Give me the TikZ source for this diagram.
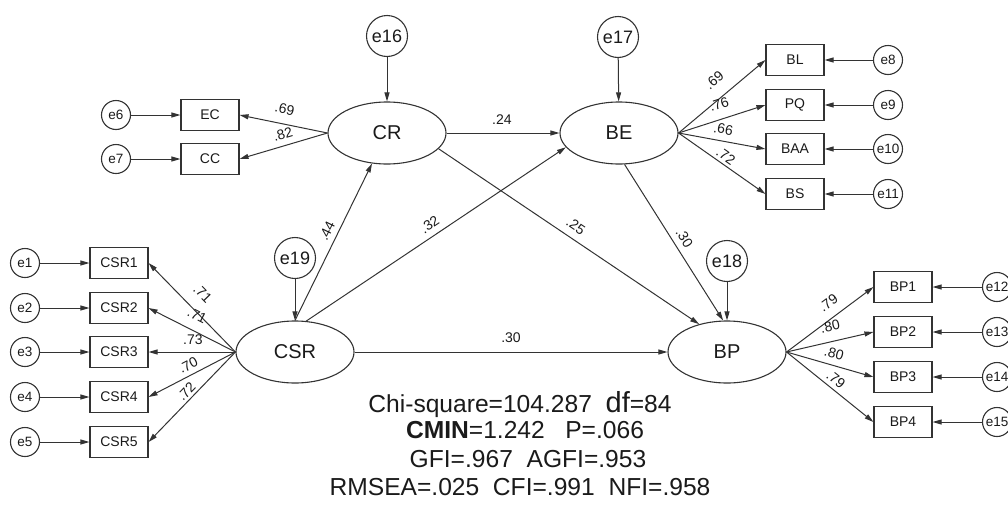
\documentclass[tikz,border=0pt]{standalone}
\usepackage{fontspec}
\setmainfont{Liberation Sans}
\usetikzlibrary{shapes.geometric,arrows.meta}
\definecolor{linec}{HTML}{333333}
\definecolor{textc}{HTML}{1A1A1A}

\begin{document}
\begin{tikzpicture}[x=1pt,y=-1pt,
  line/.style={draw=linec, line width=1pt},
  arr/.style={line, -{Triangle[length=9pt,width=5pt]}},
  latent/.style={ellipse, draw=linec, line width=1.1pt, minimum width=118pt, minimum height=62pt,
    inner sep=0pt, text=textc, font=\fontsize{20}{22}\selectfont},
  obs/.style={rectangle, draw=linec, line width=1.1pt, minimum width=58pt, minimum height=31pt,
    inner sep=0pt, text=textc, font=\fontsize{14}{16}\selectfont},
  err/.style={circle, draw=linec, line width=1.1pt, minimum size=29pt, inner sep=0pt,
    text=textc, font=\fontsize{13.5}{15}\selectfont},
  bigerr/.style={circle, draw=linec, line width=1.1pt, minimum size=41pt, inner sep=0pt,
    text=textc, font=\fontsize{18}{20}\selectfont},
  coef/.style={font=\fontsize{14}{15}\selectfont, text=textc, sloped, inner sep=0pt},
  stat/.style={font=\fontsize{24.6}{28}\selectfont, text=textc, inner sep=0pt, anchor=base}
]
\useasboundingbox (0,0) rectangle (1008,509);

% latent variables
\node[latent] (CR)  at (387,133) {CR};
\node[latent] (BE)  at (619,133) {BE};
\node[latent] (CSR) at (295,352) {CSR};
\node[latent] (BP)  at (727,352) {BP};

% disturbances
\node[bigerr] (e16) at (387,36)  {e16};
\node[bigerr] (e17) at (618,37)  {e17};
\node[bigerr] (e19) at (295,258) {e19};
\node[bigerr] (e18) at (727,261) {e18};

% indicators of CR
\node[obs] (EC) at (210,115) {EC};
\node[obs] (CC) at (210,159) {CC};
\node[err] (e6) at (116,115) {e6};
\node[err] (e7) at (116,159) {e7};

% indicators of BE
\node[obs] (BL)  at (795,60)  {BL};
\node[obs] (PQ)  at (795,105) {PQ};
\node[obs] (BAA) at (795,149) {BAA};
\node[obs] (BS)  at (795,194) {BS};
\node[err] (e8)  at (888,60)  {e8};
\node[err] (e9)  at (888,105) {e9};
\node[err] (e10) at (888,149) {e10};
\node[err] (e11) at (888,194) {e11};

% indicators of CSR
\node[obs] (CSR1) at (119,263) {CSR1};
\node[obs] (CSR2) at (119,308) {CSR2};
\node[obs] (CSR3) at (119,352) {CSR3};
\node[obs] (CSR4) at (119,397) {CSR4};
\node[obs] (CSR5) at (119,442) {CSR5};
\node[err] (e1) at (25,263) {e1};
\node[err] (e2) at (25,308) {e2};
\node[err] (e3) at (25,352) {e3};
\node[err] (e4) at (25,397) {e4};
\node[err] (e5) at (25,442) {e5};

% indicators of BP
\node[obs] (BP1) at (903,287) {BP1};
\node[obs] (BP2) at (903,332) {BP2};
\node[obs] (BP3) at (903,377) {BP3};
\node[obs] (BP4) at (903,422) {BP4};
\node[err] (e12) at (997,287) {e12};
\node[err] (e13) at (997,332) {e13};
\node[err] (e14) at (997,377) {e14};
\node[err] (e15) at (997,422) {e15};

% disturbance arrows
\draw[arr] (e16) -- (CR);
\draw[arr] (e17) -- (BE);
\draw[arr] (e19) -- (CSR);
\draw[arr] (e18) -- (BP.north);

% error arrows
\foreach \e/\o in {e6/EC,e7/CC,e1/CSR1,e2/CSR2,e3/CSR3,e4/CSR4,e5/CSR5}
  \draw[arr] (\e.east) -- (\o.west);
\foreach \e/\o in {e8/BL,e9/PQ,e10/BAA,e11/BS,e12/BP1,e13/BP2,e14/BP3,e15/BP4}
  \draw[arr] (\e.west) -- (\o.east);

% loadings
\draw[arr] (CR.west) -- node[coef,pos=.52,above=9.5pt]{.69} (EC.east);
\draw[arr] (CR.west) -- node[coef,pos=.47,above=6pt]{.82} (CC.east);

\draw[arr] (BE.east) -- node[coef,pos=.54,above=12pt]{.69} (BL.west);
\draw[arr] (BE.east) -- node[coef,pos=.52,above=9.5pt]{.76} (PQ.west);
\draw[arr] (BE.east) -- node[coef,pos=.49,above=6.5pt]{.66} (BAA.west);
\draw[arr] (BE.east) -- node[coef,pos=.49,above=3pt]{.72} (BS.west);

\draw[arr] (CSR.west) -- node[coef,pos=.52,above=12pt]{.71} (CSR1.east);
\draw[arr] (CSR.west) -- node[coef,pos=.52,above=10pt]{.71} (CSR2.east);
\draw[arr] (CSR.west) -- node[coef,pos=.49,above=7pt]{.73} (CSR3.east);
\draw[arr] (CSR.west) -- node[coef,pos=.49,above=4.5pt]{.70} (CSR4.east);
\draw[arr] (CSR.west) -- node[coef,pos=.5,above=2.5pt]{.72} (CSR5.east);

\draw[arr] (BP.east) -- node[coef,pos=.58,above=9pt]{.79} (BP1.west);
\draw[arr] (BP.east) -- node[coef,pos=.54,above=9.5pt]{.80} (BP2.west);
\draw[arr] (BP.east) -- node[coef,pos=.51,above=6pt]{.80} (BP3.west);
\draw[arr] (BP.east) -- node[coef,pos=.5,above=4pt]{.79} (BP4.west);

% structural paths
\draw[arr] (CR.east) -- node[coef,pos=.49,above=8pt]{.24} (BE.west);
\draw[arr] (CSR.north) -- node[coef,pos=.54,above=5.5pt]{.44} (CR);
\draw[arr] (CSR.70) -- node[coef,pos=.5,above=6pt]{.32} (BE.195);
\draw[arr] (CR.-17) -- node[coef,pos=.5,above=7pt]{.25} (BP.135);
\draw[arr] (BE.-80) -- node[coef,pos=.51,above=6pt]{.30} (BP.97);
\draw[arr] (CSR.east) -- node[coef,pos=.5,above=8.5pt]{.30} (BP.west);

% fit statistics
\node[stat] (fit1) at (520,412) {Chi-square=104.287\ \ {\fontsize{29}{30}\selectfont df}=84};
\node[stat] (fit2) at (525,438) {\textbf{CMIN}=1.242\ \ \ P=.066};
\node[stat] (fit3) at (528,467) {GFI=.967\ \ AGFI=.953};
\node[stat] (fit4) at (520,495) {RMSEA=.025\ \ CFI=.991\ \ NFI=.958};
\end{tikzpicture}
\end{document}
